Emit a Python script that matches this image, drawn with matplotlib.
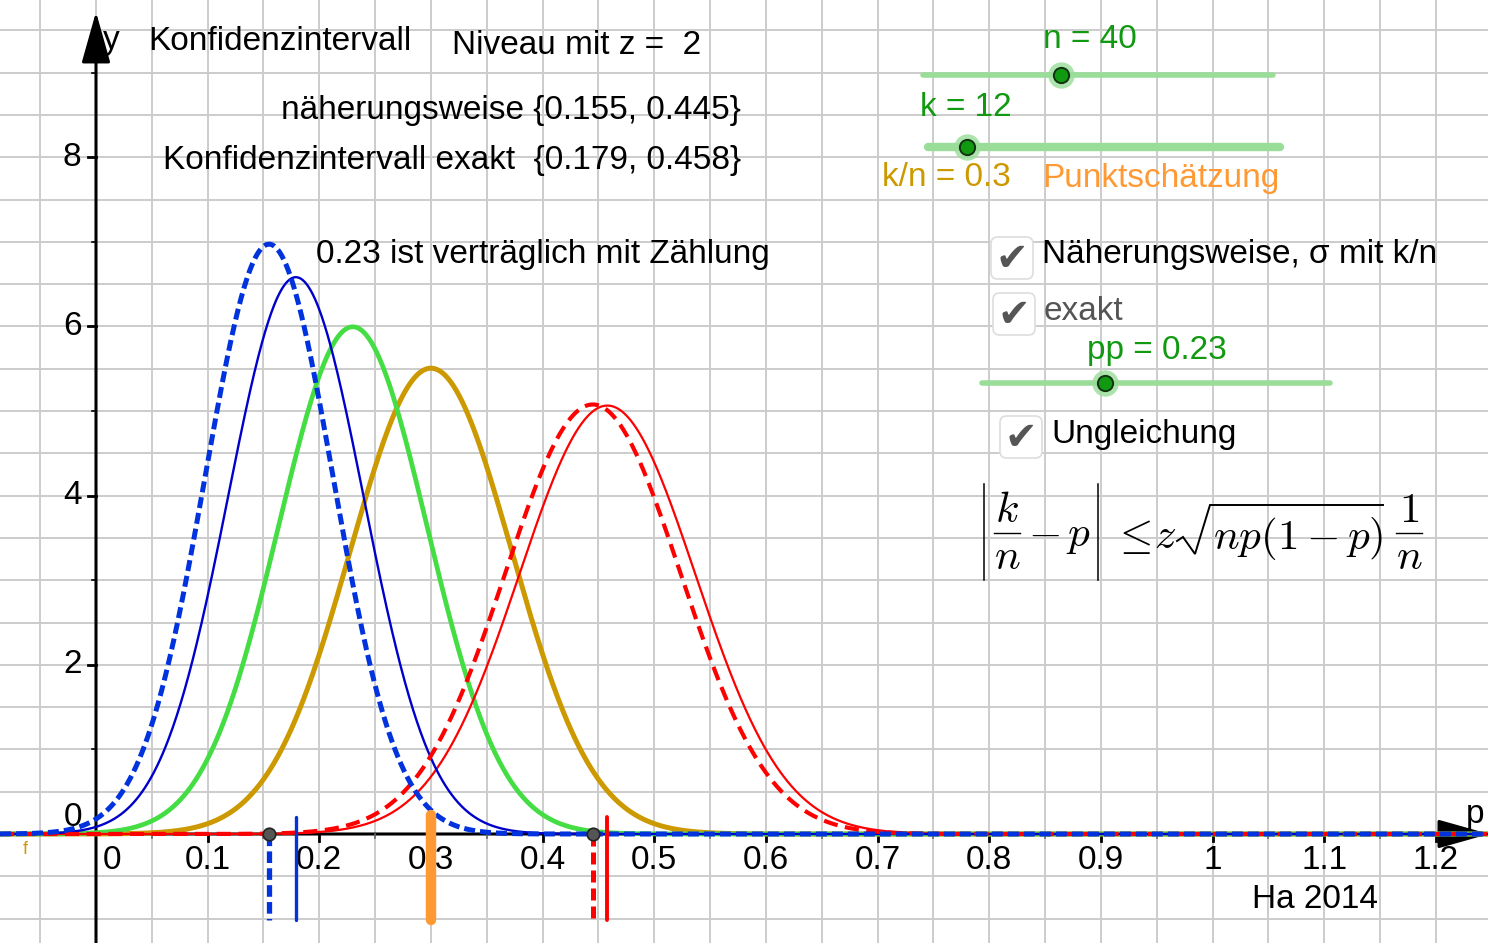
import numpy as np
import matplotlib
matplotlib.use("Agg")
import matplotlib.pyplot as plt
from matplotlib.patches import FancyBboxPatch

plt.rcParams['font.family'] = ['Liberation Sans', 'DejaVu Sans']
plt.rcParams['mathtext.fontset'] = 'cm'

# data
n_val = 40
k_val = 12
z_val = 2
pp_val = 0.23
kn_val = k_val / n_val
approx_ci = [0.155, 0.445]
exact_ci = [0.179, 0.458]

# curve centres, colours, widths, styles
curve_mu = [0.3, 0.23, 0.458, 0.179, 0.445, 0.155]
curve_col = ['#cc9900', '#44dd44', '#ff0000', '#0000cc', '#ff0000', '#0033dd']
curve_lw = [3.6, 3.4, 1.6, 1.7, 3.0, 3.6]
curve_ls = ['-', '-', '-', '-', (0, (3.4, 1.8)), (0, (2.2, 1.0))]

x_ticks = [0.1, 0.2, 0.3, 0.4, 0.5, 0.6, 0.7, 0.8, 0.9, 1.0, 1.1, 1.2]
x_tick_labels = ['0.1', '0.2', '0.3', '0.4', '0.5', '0.6', '0.7', '0.8', '0.9', '1', '1.1', '1.2']
y_ticks = [2, 4, 6, 8]

# sliders: label, value, range
sliders = [('n = 40', n_val, 1, 100), ('k = 12', k_val, 1, 100), ('pp = 0.23', pp_val, 0, 0.65)]

FS = 24
W, H = 1488, 943
X0, Y0 = 96, 834          # pixel of origin
SX, SY = 1116.5, 84.6     # pixels per unit
xmin, xmax = -X0 / SX, (W - X0) / SX
ymin, ymax = (Y0 - H) / SY, Y0 / SY


def px(x, y):
    # pixel position -> data position
    return (x - X0) / SX, (Y0 - y) / SY


def seg(points, **kw):
    pts = [px(a, b) for a, b in points]
    ax.plot([p[0] for p in pts], [p[1] for p in pts], **kw)


fig = plt.figure(figsize=(W / 100, H / 100), dpi=100)
ax = fig.add_axes([0, 0, 1, 1])
ax.set_xlim(xmin, xmax)
ax.set_ylim(ymin, ymax)
ax.axis('off')

# grid
for gx in np.arange(-0.05, 1.26, 0.05):
    ax.axvline(gx, color='#cccccc', lw=1.4, zorder=0)
for gy in np.arange(-1.0, 9.6, 0.5):
    ax.axhline(gy, color='#cccccc', lw=1.4, zorder=0)

# axes with arrows
arr = dict(arrowstyle='-|>,head_length=1.6,head_width=0.45', mutation_scale=20, color='k', lw=2.2,
           shrinkA=0, shrinkB=0)
ax.annotate('', xy=(xmax + 0.001, 0), xytext=(xmin, 0), annotation_clip=False, arrowprops=arr, zorder=3)
ax.annotate('', xy=(0, ymax - 0.14), xytext=(0, ymin), annotation_clip=False, arrowprops=arr, zorder=3)

# ticks
for t in np.arange(0.05, 1.21, 0.05):
    major = abs(t * 10 - round(t * 10)) < 1e-6
    ax.plot([t, t], [0, -0.08 if major else -0.05], color='k' if major else '#666666',
            lw=2.0 if major else 1.2, zorder=3)
for t in range(1, 10):
    major = t % 2 == 0
    ax.plot([-0.007 if major else -0.004, 0.0], [t, t], color='k', lw=2.0 if major else 1.2, zorder=3)

for t, lab in zip(x_ticks, x_tick_labels):
    ax.text(t, -0.31, lab, fontsize=FS, ha='center', va='center', zorder=2)
ax.text(0.0145, -0.31, '0', fontsize=FS, ha='center', va='center')
for t in y_ticks:
    ax.text(-0.013, t, str(t), fontsize=FS, ha='right', va='center')
ax.text(-0.021, 0.19, '0', fontsize=FS, ha='center', va='center')
ax.text(*px(103, 40), 'y', fontsize=FS, ha='left', va='center')
ax.text(*px(1466, 815), 'p', fontsize=FS, ha='left', va='center')
ax.text(*px(25, 850), 'f', fontsize=13, color='#cc9900', ha='center', va='center')

# normal curves
xs = np.linspace(xmin, xmax, 1500)
for mu, c, lw, ls in zip(curve_mu, curve_col, curve_lw, curve_ls):
    sd = np.sqrt(mu * (1 - mu) / n_val)
    ys = np.exp(-0.5 * ((xs - mu) / sd) ** 2) / (sd * np.sqrt(2 * np.pi))
    ax.plot(xs, ys, color=c, lw=lw, ls=ls, zorder=4)

# interval markers below the axis
ax.plot([approx_ci[0]] * 2, [0, -1.02], color='#0033dd', lw=3.8, ls=(0, (2.2, 1.0)), zorder=5)
ax.plot([exact_ci[0]] * 2, [0.2, -1.02], color='#0033dd', lw=2.4, solid_capstyle='round', zorder=5)
ax.plot([kn_val] * 2, [0.22, -1.02], color='#ff9933', lw=7.5, solid_capstyle='round', zorder=5)
ax.plot([approx_ci[1]] * 2, [0, -1.02], color='#ff0000', lw=3.6, ls=(0, (2.4, 1.2)), zorder=5)
ax.plot([exact_ci[1]] * 2, [0.2, -1.02], color='#ff0000', lw=2.8, solid_capstyle='round', zorder=5)
ax.plot(approx_ci, [0, 0], 'o', ms=9, mfc='#555555', mec='#222222', mew=1.2, zorder=6)

# texts
ax.text(*px(148, 42), 'Konfidenzintervall', fontsize=FS, ha='left', va='center')
ax.text(*px(452, 45), 'Niveau mit z =  %d' % z_val, fontsize=FS, ha='left', va='center')
ax.text(*px(741, 110), 'näherungsweise {%.3f, %.3f}' % tuple(approx_ci), fontsize=FS, ha='right', va='center')
ax.text(*px(741, 160), 'Konfidenzintervall exakt  {%.3f, %.3f}' % tuple(exact_ci), fontsize=FS,
        ha='right', va='center')
ax.text(*px(316, 255), '%.2f ist verträglich mit Zählung' % pp_val, fontsize=FS, ha='left', va='center')
ax.text(*px(882, 178), 'k/n = %.1f' % kn_val, fontsize=FS, color='#cc9900', ha='left', va='center')
ax.text(*px(1042, 178), 'Punktschätzung', fontsize=FS, color='#ff9933', ha='left', va='center')
ax.text(*px(1252, 900), 'Ha 2014', fontsize=FS, ha='left', va='center')

# sliders
slider_geom = [(923, 1273, 75, 1043, 40), (928, 1280, 147, 920, 108), (982, 1330, 383, 1087, 350)]
slider_lw = [4, 6, 4]
for (lab, v, lo, hi), (xa, xb, yy, lx, ly), slw in zip(sliders, slider_geom, slider_lw):
    x1, y1 = px(xa, yy)
    x2, _ = px(xb, yy)
    ax.plot([x1, x2], [y1, y1], color='#99dd99', lw=slw, solid_capstyle='round', zorder=6)
    xd = x1 + (v - lo) / (hi - lo) * (x2 - x1)
    ax.plot([xd], [y1], 'o', ms=19, mfc='#99dd99', mec='none', alpha=0.8, zorder=7)
    ax.plot([xd], [y1], 'o', ms=11, mfc='#119911', mec='#113311', mew=1.4, zorder=8)
    ax.text(*px(lx, ly), lab, fontsize=FS, color='#119911', ha='left', va='center', zorder=8)

# checkboxes
checks = [(1012, 258, 'Näherungsweise, σ mit k/n', 'k'), (1014, 314, 'exakt', '#555555'),
          (1021, 437, 'Ungleichung', 'k')]
for cx, cy, lab, col in checks:
    bx, by = px(cx - 21, cy + 21)
    bw, bh = 42 / SX, 42 / SY
    ax.add_patch(FancyBboxPatch((bx, by), bw, bh, boxstyle='round,pad=0,rounding_size=0.006',
                                fc='white', ec='#dddddd', lw=1.2, zorder=6, mutation_aspect=SX / SY))
    ax.text(*px(cx, cy + 1), '✔', fontsize=28, color='#555555', ha='center', va='center', zorder=7,
            family='DejaVu Sans')
    ax.text(*px(cx + 30, cy - 3), lab, fontsize=FS, color=col, ha='left', va='center', zorder=7)

# inequality |k/n - p| <= z sqrt(np(1-p)) 1/n, built from pieces
MFS = 31
seg([(984, 484), (984, 580)], color='k', lw=1.1, zorder=7)
seg([(1098, 484), (1098, 580)], color='k', lw=1.1, zorder=7)
for cx, num in [(1007, 'k'), (1409, '1')]:
    ax.text(*px(cx, 511), '$%s$' % num, fontsize=MFS, ha='center', va='center', zorder=7)
    seg([(cx - 13, 533), (cx + 13, 533)], color='k', lw=1.0, zorder=7)
    ax.text(*px(cx, 558), '$n$', fontsize=MFS, ha='center', va='center', zorder=7)
ax.text(*px(1028, 536), '$-\\,p$', fontsize=MFS, ha='left', va='center', zorder=7)
ax.text(*px(1132, 537), r'$\leq$', fontsize=MFS, ha='center', va='center', zorder=7)
ax.text(*px(1165, 537), r'$z$', fontsize=MFS, ha='center', va='center', zorder=7)
seg([(1177, 541), (1183, 537), (1195, 554), (1210, 505), (1383, 505)], color='k', lw=1.4,
    solid_joinstyle='miter', zorder=7)
ax.text(*px(1213, 538), r'$np(1-p)$', fontsize=MFS, ha='left', va='center', zorder=7)

fig.savefig('out.png', dpi=100)
